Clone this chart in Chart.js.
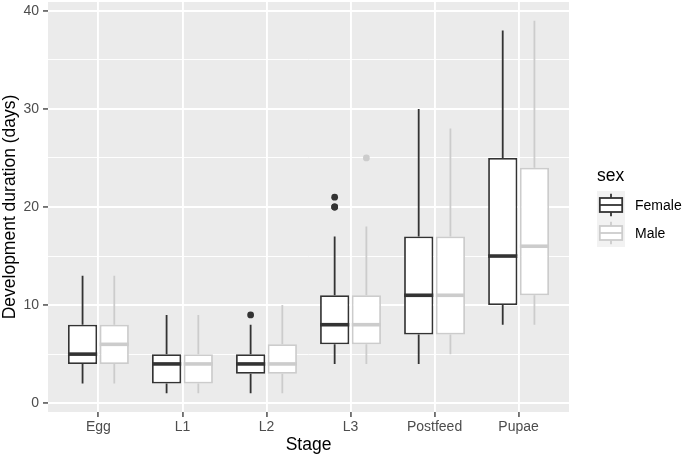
<!DOCTYPE html>
<html><head><meta charset="utf-8">
<script src="https://cdn.jsdelivr.net/npm/chart.js@4/dist/chart.umd.min.js"></script>
<style>html,body{margin:0;padding:0;background:#fff}#wrap{width:685px;height:458px;position:relative}canvas{display:block}</style>
</head><body><div id="wrap"><canvas id="c" width="685" height="458" style="width:685px;height:458px"></canvas></div>
<script>
const stages = ['Egg','L1','L2','L3','Postfeed','Pupae'];
const sexes = ['Female','Male'];
const femaleMin      = [2, 1, 1, 4, 4, 8];
const femaleQ1       = [4, 2, 3, 6, 7, 10];
const femaleMedian   = [5, 4, 4, 8, 11, 15];
const femaleQ3       = [8, 5, 5, 11, 17, 25];
const femaleMax      = [13, 9, 8, 17, 30, 38];
const femaleOutliers = [[], [], [9], [20, 20, 21], [], []];
const maleMin        = [2, 1, 1, 4, 5, 8];
const maleQ1         = [4, 2, 3, 6, 7, 11];
const maleMedian     = [6, 4, 4, 8, 11, 16];
const maleQ3         = [8, 5, 6, 11, 17, 24];
const maleMax        = [13, 9, 10, 18, 28, 39];
const maleOutliers   = [[], [], [], [25], [], []];
const yTickValues = [0, 5, 10, 15, 20, 25, 30, 35, 40];
const yLabelledTicks = [0, 10, 20, 30, 40];

const FONT = "'Liberation Sans', Arial, Helvetica, sans-serif";
const colors = ['#333333', '#CCCCCC'];
const LW = 1.8;

const stats = [
  {min: femaleMin, q1: femaleQ1, med: femaleMedian, q3: femaleQ3, max: femaleMax, out: femaleOutliers},
  {min: maleMin, q1: maleQ1, med: maleMedian, q3: maleQ3, max: maleMax, out: maleOutliers}
];

const panelBg = {
  id: 'panelBg',
  beforeDraw(chart) {
    const {ctx, chartArea: a} = chart;
    ctx.save();
    ctx.fillStyle = '#EBEBEB';
    ctx.fillRect(a.left, a.top, a.right - a.left, a.bottom - a.top);
    ctx.restore();
  }
};

const boxParts = {
  id: 'boxParts',
  beforeDatasetsDraw(chart) {
    const {ctx} = chart;
    const y = chart.scales.y;
    ctx.save();
    stats.forEach((s, d) => {
      const meta = chart.getDatasetMeta(d);
      ctx.strokeStyle = colors[d];
      ctx.lineWidth = LW;
      meta.data.forEach((el, i) => {
        ctx.beginPath();
        ctx.moveTo(el.x, y.getPixelForValue(s.q3[i]));
        ctx.lineTo(el.x, y.getPixelForValue(s.max[i]));
        ctx.moveTo(el.x, y.getPixelForValue(s.q1[i]));
        ctx.lineTo(el.x, y.getPixelForValue(s.min[i]));
        ctx.stroke();
      });
    });
    ctx.restore();
  },
  afterDatasetsDraw(chart) {
    const {ctx} = chart;
    const y = chart.scales.y;
    ctx.save();
    stats.forEach((s, d) => {
      const meta = chart.getDatasetMeta(d);
      meta.data.forEach((el, i) => {
        const half = el.width / 2;
        const py = y.getPixelForValue(s.med[i]);
        ctx.strokeStyle = colors[d];
        ctx.lineWidth = LW * 2;
        ctx.beginPath();
        ctx.moveTo(el.x - half, py);
        ctx.lineTo(el.x + half, py);
        ctx.stroke();
        ctx.fillStyle = colors[d];
        s.out[i].forEach(v => {
          ctx.beginPath();
          ctx.arc(el.x, y.getPixelForValue(v), 3.4, 0, Math.PI * 2);
          ctx.fill();
        });
      });
    });
    ctx.restore();
  }
};

const legendPlugin = {
  id: 'ggLegend',
  afterDraw(chart) {
    const {ctx} = chart;
    ctx.save();
    ctx.fillStyle = '#000';
    ctx.font = `17.5px ${FONT}`;
    ctx.textBaseline = 'alphabetic';
    ctx.textAlign = 'left';
    ctx.fillText('sex', 597, 180.5);
    const kx = 597, ky = 191, ks = 28;
    sexes.forEach((name, d) => {
      const top = ky + d * ks;
      ctx.fillStyle = '#F2F2F2';
      ctx.fillRect(kx, top, ks, ks);
      ctx.strokeStyle = colors[d];
      ctx.lineWidth = LW;
      const cx = kx + ks / 2;
      ctx.beginPath();
      ctx.moveTo(cx, top + ks * 0.1); ctx.lineTo(cx, top + ks * 0.25);
      ctx.moveTo(cx, top + ks * 0.75); ctx.lineTo(cx, top + ks * 0.9);
      ctx.stroke();
      ctx.fillStyle = '#FFFFFF';
      ctx.fillRect(kx + ks * 0.1, top + ks * 0.25, ks * 0.8, ks * 0.5);
      ctx.strokeRect(kx + ks * 0.1, top + ks * 0.25, ks * 0.8, ks * 0.5);
      ctx.beginPath();
      ctx.moveTo(kx + ks * 0.1, top + ks * 0.5); ctx.lineTo(kx + ks * 0.9, top + ks * 0.5);
      ctx.stroke();
      ctx.fillStyle = '#000';
      ctx.font = `14px ${FONT}`;
      ctx.textBaseline = 'middle';
      ctx.fillText(name, 635, top + ks / 2 + 1);
    });
    ctx.restore();
  }
};

new Chart(document.getElementById('c'), {
  type: 'bar',
  data: {
    labels: stages.map((_, i) => i),
    datasets: stats.map((s, d) => ({
      label: sexes[d],
      data: stages.map((_, i) => [s.q1[i], s.q3[i]]),
      backgroundColor: '#FFFFFF',
      borderColor: colors[d],
      borderWidth: LW,
      borderSkipped: false,
      categoryPercentage: 0.755,
      barPercentage: 0.92
    }))
  },
  options: {
    responsive: false,
    animation: false,
    devicePixelRatio: 1,
    layout: {padding: {top: 2, right: 116, left: 0, bottom: 0}},
    plugins: {legend: {display: false}, tooltip: {enabled: false}},
    scales: {
      x: {
        type: 'linear',
        min: -0.6,
        max: 5.6,
        offset: false,
        afterBuildTicks(scale) { scale.ticks = stages.map((_, i) => ({value: i})); },
        afterFit(scale) { scale.height = 46; scale.paddingLeft = 0; scale.paddingRight = 0; },
        ticks: {
          callback: v => stages[v],
          color: '#4D4D4D',
          font: {family: FONT, size: 14},
          padding: 2,
          maxRotation: 0,
          autoSkip: false
        },
        grid: {offset: false, color: '#FFFFFF', lineWidth: 1.9, tickColor: '#333333', tickWidth: 1.3, tickLength: 5},
        border: {display: false},
        title: {display: true, text: 'Stage', color: '#000', font: {family: FONT, size: 17.5}, padding: {top: 0, bottom: 2}}
      },
      y: {
        type: 'linear',
        min: -0.9,
        max: 40.9,
        afterBuildTicks(scale) { scale.ticks = yTickValues.map(v => ({value: v})); },
        afterFit(scale) { scale.width = 48; scale.paddingTop = 0; scale.paddingBottom = 0; },
        ticks: {
          callback: v => (yLabelledTicks.includes(v) ? String(v) : ''),
          color: '#4D4D4D',
          font: {family: FONT, size: 14},
          padding: 4
        },
        grid: {
          color: '#FFFFFF',
          lineWidth: c => (yLabelledTicks.includes(c.tick.value) ? 1.9 : 0.95),
          tickColor: c => (yLabelledTicks.includes(c.tick.value) ? '#333333' : 'rgba(0,0,0,0)'),
          tickWidth: 1.3,
          tickLength: 5
        },
        border: {display: false},
        title: {display: true, text: 'Development duration (days)', color: '#000', font: {family: FONT, size: 17.5}, padding: {top: 0, bottom: 0}}
      }
    }
  },
  plugins: [panelBg, boxParts, legendPlugin]
});
</script>
</body></html>
